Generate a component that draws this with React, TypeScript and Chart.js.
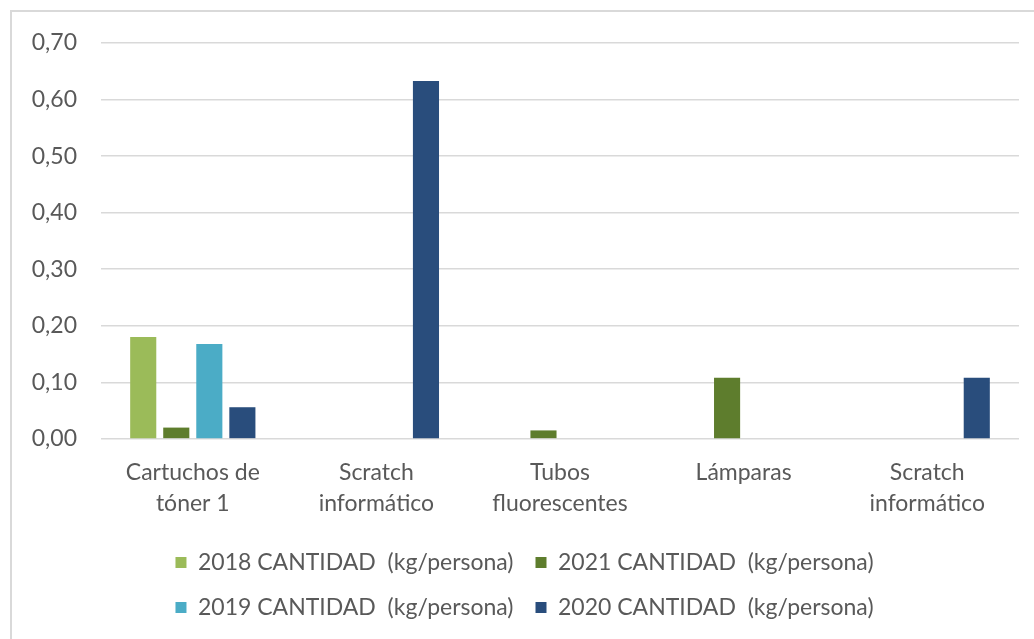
import React, { useEffect, useRef } from "react";
import { Chart, registerables } from "chart.js";

Chart.register(...registerables);

const categories: (string | string[])[] = [
  ["Cartuchos de", "tóner 1"],
  ["Scratch", "informático"],
  ["Tubos", "fluorescentes"],
  "Lámparas",
  ["Scratch", "informático"],
];

const series2018: (number | null)[] = [0.18, null, null, null, null];
const series2021: (number | null)[] = [0.02, null, 0.015, 0.108, null];
const series2019: (number | null)[] = [0.168, null, null, null, null];
const series2020: (number | null)[] = [0.056, 0.633, null, null, 0.108];

const seriesLabels = [
  "2018 CANTIDAD  (kg/persona)",
  "2021 CANTIDAD  (kg/persona)",
  "2019 CANTIDAD  (kg/persona)",
  "2020 CANTIDAD  (kg/persona)",
];

const FONT = "Lato, 'Open Sans', sans-serif";
const TEXT = "#595959";

export default function App() {
  const ref = useRef<HTMLCanvasElement | null>(null);

  useEffect(() => {
    if (!ref.current) return;
    const colors = ["#9bbb59", "#5e7d2d", "#4bacc6", "#294d7c"];
    const values = [series2018, series2021, series2019, series2020];
    const chart = new Chart(ref.current, {
      type: "bar",
      data: {
        labels: categories,
        datasets: values.map((v, i) => ({
          label: seriesLabels[i],
          data: v,
          backgroundColor: colors[i],
          borderWidth: 0,
          categoryPercentage: 0.72,
          barPercentage: 0.79,
        })),
      },
      options: {
        animation: false,
        responsive: false,
        maintainAspectRatio: false,
        layout: { padding: { left: 30, right: 15, top: 43, bottom: 10 } },
        plugins: {
          tooltip: { enabled: false },
          legend: {
            position: "bottom",
            labels: {
              color: TEXT,
              font: { family: FONT, size: 23 },
              boxWidth: 11,
              boxHeight: 11,
              padding: 22,
            },
          },
        },
        scales: {
          x: {
            grid: { display: false },
            border: { display: false },
            ticks: {
              color: TEXT,
              font: { family: FONT, size: 23, lineHeight: 1.35 },
              padding: 10,
              maxRotation: 0,
              autoSkip: false,
            },
          },
          y: {
            min: 0,
            max: 0.7,
            grid: { color: "#d9d9d9", lineWidth: 1.5, drawTicks: false },
            border: { display: false },
            ticks: {
              stepSize: 0.1,
              color: TEXT,
              font: { family: FONT, size: 23 },
              padding: 24,
              callback: (v: any) => Number(v).toFixed(2).replace(".", ","),
            },
            afterFit: (scale: any) => {
              scale.width = 71;
            },
          },
        },
      },
    });
    return () => chart.destroy();
  }, []);

  return (
    <div style={{ position: "fixed", left: 0, top: 0, width: 1034, height: 639, background: "#fff" }}>
      <div
        style={{
          position: "absolute",
          left: 10,
          top: 10,
          width: 1030,
          height: 640,
          borderTop: "2px solid #d9d9d9",
          borderLeft: "2px solid #d9d9d9",
        }}
      />
      <canvas ref={ref} width={1034} height={639} style={{ position: "absolute", left: 0, top: 0 }} />
    </div>
  );
}
